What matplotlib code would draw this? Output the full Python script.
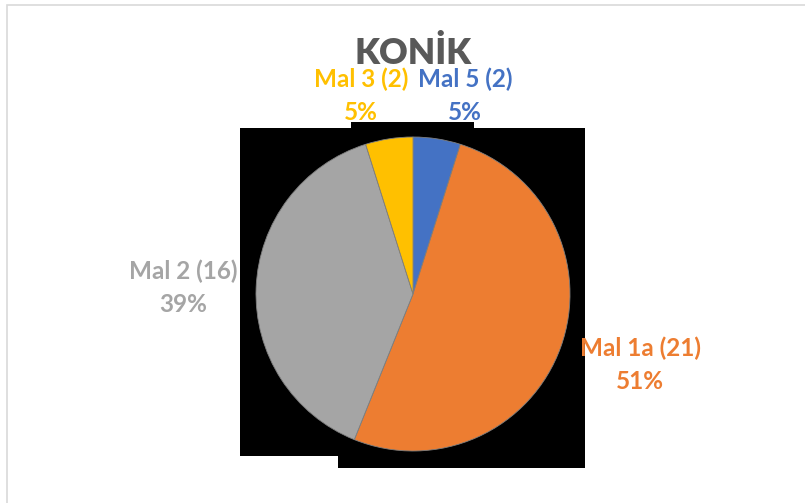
import matplotlib.pyplot as plt
from matplotlib.patches import Rectangle

names = ['Mal 5', 'Mal 1a', 'Mal 2', 'Mal 3']
counts = [2, 21, 16, 2]
colors = ['#4472C4', '#ED7D31', '#A5A5A5', '#FFC000']

W, H = 805, 503
fig = plt.figure(figsize=(W / 100, H / 100), dpi=100)
ax = fig.add_axes([0, 0, 1, 1])

# chart frame
ax.add_patch(Rectangle((7, -10), W, H - 5 + 10, fill=False, ec='#D9D9D9', lw=1.2))

# black blocks behind the pie
for x0, y0, x1, y1 in [(240, 128, 585, 456), (338, 440, 585, 468), (351, 122, 474, 130)]:
    ax.add_patch(Rectangle((x0, H - y1), x1 - x0, y1 - y0, color='black', lw=0))

ax.pie(counts, colors=colors, startangle=90, counterclock=False,
       center=(413, H - 294), radius=157, frame=True,
       wedgeprops=dict(linewidth=0.6, edgecolor='#7F7F7F'))
ax.set_xlim(0, W)
ax.set_ylim(0, H)
ax.set_aspect('equal')
ax.axis('off')

total = sum(counts)
label_pos = [(465, 96), (640, 365), (183, 288), (361, 96)]
for n, c, col, (x, y) in zip(names, counts, colors, label_pos):
    ax.text(x, H - y, f'{n} ({c})\n{round(100 * c / total)}%', color=col,
            ha='center', va='center', fontsize=17.5, fontweight='bold',
            family='Lato', linespacing=1.55)

ax.text(413, H - 53, 'KONİK', ha='center', va='center', fontsize=25.5,
        fontweight='heavy', color='#595959', family='Lato')

fig.savefig('out.png', dpi=100)
